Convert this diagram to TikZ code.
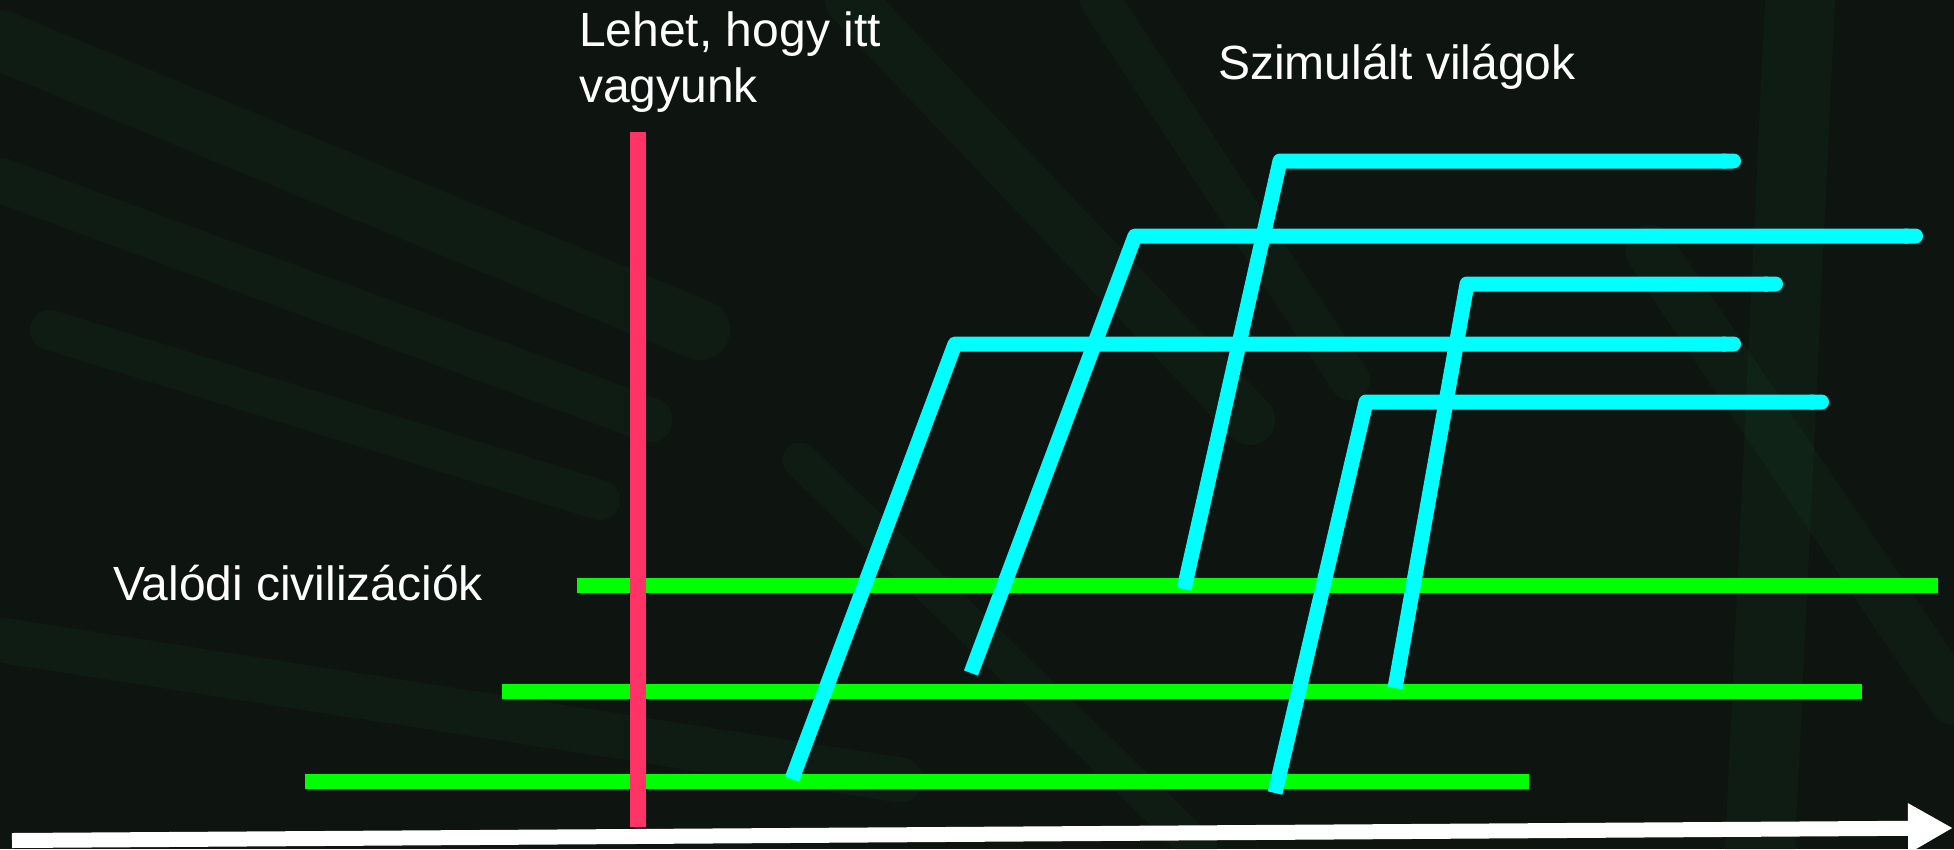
\documentclass[tikz,border=0pt]{standalone}
\usepackage{fontspec}
\setmainfont{Liberation Sans}
\usetikzlibrary{arrows.meta}
\definecolor{bg}{RGB}{14,20,16}
\definecolor{streak}{RGB}{30,95,55}
\definecolor{realgreen}{RGB}{0,255,0}
\definecolor{simcyan}{RGB}{0,255,255}
\definecolor{herered}{RGB}{255,51,102}
\begin{document}
\begin{tikzpicture}[x=1pt,y=-1pt,
  lbl/.style={text=white, font=\fontsize{48}{56}\selectfont, inner sep=0pt, anchor=base west, align=left},
  real/.style={draw=realgreen, line width=15pt, line cap=butt},
  sim/.style={draw=simcyan, line width=15pt, line join=round, line cap=butt, -{Round Cap[]}},
  marker/.style={draw=herered, line width=16pt, line cap=butt},
  timearrow/.style={draw=white, line width=15pt, -{Triangle[length=45pt,width=47pt]}},
  band/.style={draw=streak, line cap=round, opacity=0.11}]
% background
\fill[bg] (0,0) rectangle (1954,849);
\useasboundingbox (0,0) rectangle (1954,849);
\begin{scope}
\clip (0,0) rectangle (1954,849);
\draw[band, line width=60pt] (0,40) -- (700,330);
\draw[band, line width=45pt] (0,180) -- (650,420);
\draw[band, line width=40pt] (50,330) -- (600,500);
\draw[band, line width=50pt] (850,0) -- (1250,420);
\draw[band, line width=40pt] (1100,0) -- (1350,380);
\draw[band, line width=70pt] (1800,0) -- (1760,849);
\draw[band, line width=50pt] (1650,250) -- (1954,700);
\draw[band, line width=45pt] (0,640) -- (900,780);
\draw[band, line width=35pt] (800,460) -- (1200,849);
\end{scope}
% coordinates
\coordinate (g1a) at (577,585.5);  \coordinate (g1b) at (1938,585.5);
\coordinate (g2a) at (502,691);    \coordinate (g2b) at (1862,691);
\coordinate (g3a) at (305,781.5);  \coordinate (g3b) at (1529,781.5);
\coordinate (r1) at (638,132);     \coordinate (r2) at (638,827);
\coordinate (t1) at (12,840.5);    \coordinate (t2) at (1953,828);
\coordinate (s1a) at (792,779);  \coordinate (s1b) at (955,344);  \coordinate (s1c) at (1741,344);
\coordinate (s2a) at (971,673);  \coordinate (s2b) at (1135,236); \coordinate (s2c) at (1923,236);
\coordinate (s3a) at (1184,589); \coordinate (s3b) at (1280,161); \coordinate (s3c) at (1741,161);
\coordinate (s4a) at (1275,793); \coordinate (s4b) at (1366,402); \coordinate (s4c) at (1829,402);
\coordinate (s5a) at (1395,688); \coordinate (s5b) at (1467,284); \coordinate (s5c) at (1783,284);
% real civilizations
\draw[real] (g1a) -- (g1b);
\draw[real] (g2a) -- (g2b);
\draw[real] (g3a) -- (g3b);
% marker
\draw[marker] (r1) -- (r2);
% simulated worlds
\draw[sim] (s1a) -- (s1b) -- (s1c);
\draw[sim] (s2a) -- (s2b) -- (s2c);
\draw[sim] (s3a) -- (s3b) -- (s3c);
\draw[sim] (s4a) -- (s4b) -- (s4c);
\draw[sim] (s5a) -- (s5b) -- (s5c);
% time arrow
\draw[timearrow] (t1) -- (t2);
% labels
\node[lbl] (here) at (579,102) {Lehet, hogy itt\\vagyunk};
\node[lbl] (sim) at (1218,79) {Szimulált világok};
\node[lbl] (real) at (113,600) {Valódi civilizációk};
\end{tikzpicture}
\end{document}
